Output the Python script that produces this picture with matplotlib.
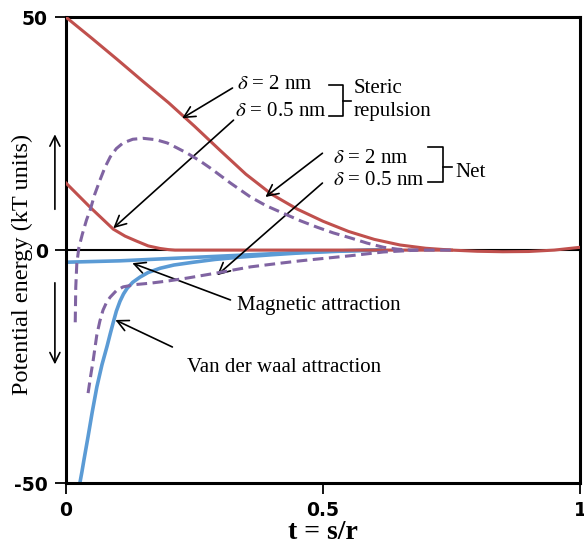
import matplotlib
matplotlib.use('Agg')
import matplotlib.pyplot as plt
from matplotlib.patches import FancyArrowPatch

# curves (t = s/r, potential energy in kT units)
t_steric_2 = [0.0, 0.05, 0.1, 0.15, 0.2, 0.25, 0.3, 0.35, 0.4, 0.45, 0.5, 0.55, 0.6,
              0.65, 0.7, 0.75, 0.8, 0.85, 0.9, 0.95, 1.0]
u_steric_2 = [50.0, 45.5, 40.9, 36.2, 31.6, 26.6, 21.4, 16.3, 12.0, 8.8, 6.2, 4.0, 2.3,
              1.1, 0.4, 0.0, -0.25, -0.35, -0.3, 0.0, 0.6]

t_steric_05 = [0.0, 0.047, 0.092, 0.115, 0.138, 0.16, 0.183, 0.2, 0.212, 0.75]
u_steric_05 = [14.4, 9.2, 4.5, 3.0, 1.9, 0.9, 0.35, 0.1, 0.0, 0.0]

t_net_2 = [0.018, 0.019, 0.021, 0.025, 0.032, 0.040, 0.047, 0.056, 0.066, 0.076, 0.086,
           0.098, 0.111, 0.13, 0.150, 0.175, 0.197, 0.215, 0.236, 0.26, 0.281, 0.32,
           0.359, 0.39, 0.423, 0.456, 0.489, 0.52, 0.554, 0.586, 0.618, 0.645, 0.671, 0.749]
u_net_2 = [-15.5, -8.0, -3.0, 0.5, 3.5, 6.5, 8.6, 12.0, 15.0, 17.8, 20.0,
           21.8, 23.0, 23.8, 24.0, 23.7, 23.0, 22.0, 20.8, 19.2, 17.6, 14.4,
           11.4, 9.5, 7.9, 6.3, 4.9, 3.7, 2.6, 1.5, 0.6, 0.2, 0.0, 0.0]

t_net_05 = [0.043, 0.048, 0.053, 0.060, 0.066, 0.072, 0.079, 0.086, 0.098, 0.111, 0.135,
            0.164, 0.2, 0.236, 0.294, 0.359, 0.41, 0.456, 0.5, 0.554, 0.618, 0.684]
u_net_05 = [-30.7, -27.0, -23.6, -18.2, -15.2, -12.9, -11.2, -10.1, -8.7, -7.9, -7.4,
            -7.1, -6.6, -6.0, -4.9, -3.6, -2.9, -2.3, -1.8, -1.2, -0.4, 0.0]

t_magnetic = [0.0, 0.105, 0.222, 0.359, 0.495, 0.612]
u_magnetic = [-2.6, -2.3, -1.7, -1.0, -0.3, 0.1]

t_vdw = [0.027, 0.031, 0.035, 0.043, 0.051, 0.060, 0.070, 0.080, 0.086, 0.092, 0.098,
         0.105, 0.112, 0.119, 0.13, 0.144, 0.16, 0.183, 0.21, 0.248, 0.29, 0.339,
         0.4, 0.456, 0.53, 0.612]
u_vdw = [-50.0, -47.6, -45.0, -40.0, -34.8, -29.4, -24.6, -20.6, -18.0, -15.5, -13.1,
         -11.0, -9.4, -8.2, -6.9, -5.8, -4.8, -3.9, -3.2, -2.6, -2.0, -1.5,
         -1.0, -0.6, -0.25, 0.0]

x_ticks = [0, 0.5, 1]
x_ticklabels = ['0', '0.5', '1']
y_ticks = [-50, 0, 50]
y_ticklabels = ['-50', '0', '50']

red = '#C0504D'
blue = '#5B9BD5'
purple = '#8064A2'

plt.rcParams['mathtext.fontset'] = 'stix'
serif = 'Liberation Serif'

fig = plt.figure(figsize=(5.84, 5.48), dpi=100)
ax = fig.add_axes([0.113, 0.1186, 0.880, 0.850])

ax.axhline(0, color='black', lw=1.5, zorder=1)
ax.plot(t_steric_2, u_steric_2, color=red, lw=2.2, zorder=3)
ax.plot(t_steric_05, u_steric_05, color=red, lw=2.2, zorder=3)
ax.plot(t_magnetic, u_magnetic, color=blue, lw=2.6, zorder=2)
ax.plot(t_vdw, u_vdw, color=blue, lw=2.6, zorder=2)
ax.plot(t_net_2, u_net_2, color=purple, lw=2.2, dashes=(3.5, 1.8), zorder=4)
ax.plot(t_net_05, u_net_05, color=purple, lw=2.2, dashes=(3.5, 1.8), zorder=4)

ax.set_xlim(0, 1)
ax.set_ylim(-50, 50)
ax.set_xticks(x_ticks)
ax.set_xticklabels(x_ticklabels)
ax.set_yticks(y_ticks)
ax.set_yticklabels(y_ticklabels)
for lab in ax.get_xticklabels() + ax.get_yticklabels():
    lab.set_fontweight('bold')
    lab.set_fontsize(13.5)
ax.tick_params(direction='out', length=8, width=1.3, pad=5)
for sp in ax.spines.values():
    sp.set_linewidth(2.2)

ax.set_xlabel('t = s/r', fontfamily=serif, fontweight='bold', fontsize=20, labelpad=0)
fig.text(0.038, 0.518, 'Potential energy (kT units)', rotation=90, ha='center', va='center',
         fontfamily=serif, fontsize=17.5)

# arrows next to the y label
arr = dict(arrowstyle='->', lw=1.2, color='black', mutation_scale=18)
fig.add_artist(FancyArrowPatch((0.094, 0.613), (0.094, 0.760), transform=fig.transFigure, **arr))
fig.add_artist(FancyArrowPatch((0.094, 0.489), (0.094, 0.330), transform=fig.transFigure, **arr))

tkw = dict(fontfamily=serif, fontsize=15, va='center', ha='left')
ax.text(0.333, 35.6, r'$\delta$ = 2 nm', **tkw)
ax.text(0.329, 29.8, r'$\delta$ = 0.5 nm', **tkw)
ax.text(0.559, 34.8, 'Steric', **tkw)
ax.text(0.559, 29.8, 'repulsion', **tkw)
ax.text(0.520, 19.7, r'$\delta$ = 2 nm', **tkw)
ax.text(0.519, 15.0, r'$\delta$ = 0.5 nm', **tkw)
ax.text(0.758, 16.7, 'Net', **tkw)
ax.text(0.333, -11.8, 'Magnetic attraction', **tkw)
ax.text(0.236, -25.1, 'Van der waal attraction', **tkw)

akw = dict(arrowprops=dict(arrowstyle='->', lw=1.2, color='black', mutation_scale=20,
                           shrinkA=0, shrinkB=0))
ax.annotate('', xy=(0.226, 28.3), xytext=(0.324, 34.8), **akw)
ax.annotate('', xy=(0.092, 4.7), xytext=(0.326, 27.9), **akw)
ax.annotate('', xy=(0.388, 11.4), xytext=(0.499, 20.8), **akw)
ax.annotate('', xy=(0.294, -5.4), xytext=(0.499, 14.4), **akw)
ax.annotate('', xy=(0.129, -2.8), xytext=(0.320, -10.7), **akw)
ax.annotate('', xy=(0.096, -15.0), xytext=(0.207, -20.8), **akw)

# square braces
ax.plot([0.511, 0.539, 0.539, 0.511], [35.4, 35.4, 28.8, 28.8], color='black', lw=1.2)
ax.plot([0.539, 0.554], [32.1, 32.1], color='black', lw=1.2)
ax.plot([0.704, 0.733, 0.733, 0.704], [22.1, 22.1, 14.6, 14.6], color='black', lw=1.2)
ax.plot([0.733, 0.752], [17.8, 17.8], color='black', lw=1.2)

fig.savefig('out.png', dpi=100)
